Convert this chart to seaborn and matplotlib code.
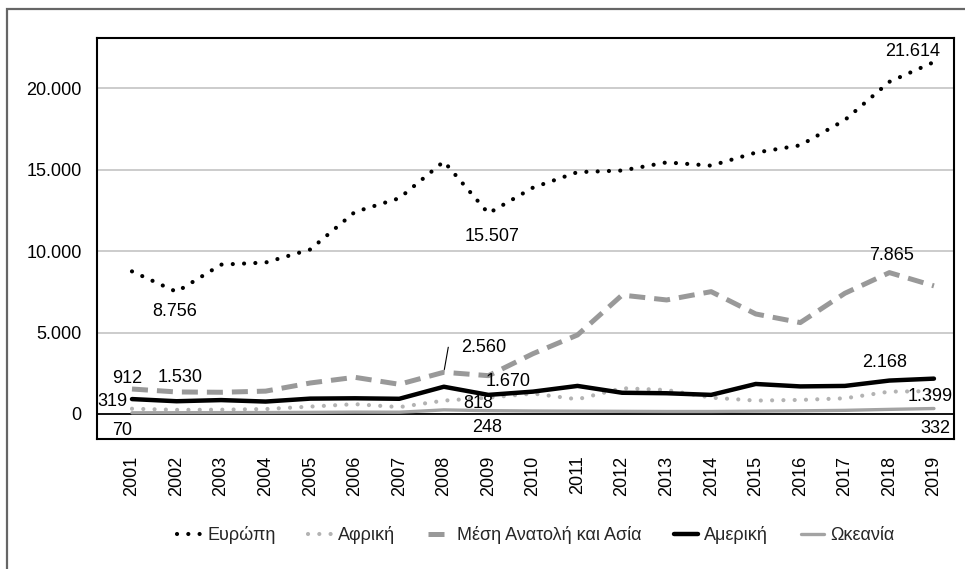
import matplotlib
matplotlib.use("Agg")

import matplotlib.pyplot as plt
import seaborn as sns
from matplotlib.patches import Rectangle

# Data
years = list(range(2001, 2020))
europe = [8756, 7500, 9170, 9300, 10100, 12400, 13250, 15507, 12320, 13900,
          14850, 14950, 15450, 15250, 16050, 16500, 18050, 20400, 21614]
africa = [319, 250, 260, 300, 450, 600, 420, 818, 1000, 1250,
          900, 1580, 1470, 1000, 820, 860, 960, 1370, 1399]
mideast_asia = [1530, 1350, 1330, 1400, 1900, 2250, 1820, 2560, 2350, 3700,
                4850, 7300, 7000, 7510, 6140, 5610, 7410, 8680, 7865]
americas = [912, 780, 850, 760, 940, 960, 930, 1670, 1170, 1370,
            1720, 1300, 1270, 1170, 1840, 1690, 1720, 2050, 2168]
oceania = [70, 75, 80, 85, 95, 110, 105, 248, 200, 180,
           170, 160, 150, 150, 170, 190, 220, 280, 332]

names = ["Ευρώπη", "Αφρική", "Μέση Ανατολή και Ασία", "Αμερική", "Ωκεανία"]

sns.set_theme(style="white")
plt.rcParams["font.family"] = ["Liberation Sans", "DejaVu Sans"]

fig = plt.figure(figsize=(9.65, 5.69), dpi=100)
ax = fig.add_axes([97 / 965, 1 - 439 / 569, 857 / 965, 401 / 569])

# outer frame of the picture
fig.patches.append(Rectangle((7 / 965, -0.1), 1.1, 1 - 9 / 569 + 0.1,
                             transform=fig.transFigure, fill=False,
                             edgecolor="#666666", linewidth=1.6))

# gridlines
for v in [5000, 10000, 15000, 20000]:
    ax.axhline(v, color="#c8c8c8", lw=1.3, zorder=0)
ax.axhline(0, color="black", lw=1.3, zorder=1)

series = [
    (europe, dict(color="black", lw=3.0, linestyle=(0, (0.01, 2.7)),
                  dash_capstyle="round")),
    (africa, dict(color="#b3b3b3", lw=3.0, linestyle=(0, (0.01, 2.7)),
                  dash_capstyle="round")),
    (mideast_asia, dict(color="#999999", lw=3.6, linestyle=(0, (3.2, 1.8)))),
    (americas, dict(color="black", lw=3.2)),
    (oceania, dict(color="#a3a3a3", lw=2.4)),
]
for (vals, kws), name in zip(series, names):
    sns.lineplot(x=years, y=vals, ax=ax, label=name, zorder=3, **kws)

ax.set_xlim(2000.215, 2019.45)
ax.set_ylim(-1540, 23090)
ax.set_xticks(years)
ax.set_xticklabels([str(y) for y in years], rotation=90)
ax.set_yticks([0, 5000, 10000, 15000, 20000])
ax.set_yticklabels(["0", "5.000", "10.000", "15.000", "20.000"])
ax.tick_params(axis="y", length=0, pad=11, labelsize=13, colors="black")
ax.tick_params(axis="x", length=0, pad=12, labelsize=13, colors="black")
ax.set_xlabel("")
ax.set_ylabel("")
for s in ax.spines.values():
    s.set_color("black")
    s.set_linewidth(1.5)


def fmt(v):
    return f"{v:,}".replace(",", ".")


# value labels: (series, year index, offset in pixels)
labels = [
    (europe, 18, (-21, 11)),
    (europe, 7, (48, -75)),
    (europe, 0, (43, -40)),
    (mideast_asia, 18, (-42, 30)),
    (mideast_asia, 0, (48, 12)),
    (americas, 0, (-5, 21)),
    (americas, 7, (64, 5)),
    (americas, 18, (-49, 16)),
    (africa, 0, (-20, 7)),
    (africa, 7, (34, -3)),
    (africa, 18, (-4, -5)),
    (oceania, 0, (-10, -18)),
    (oceania, 7, (43, -18)),
    (oceania, 18, (1, -20)),
]
for vals, i, off in labels:
    ax.annotate(fmt(vals[i]), xy=(years[i], vals[i]), xytext=off,
                textcoords="offset pixels", ha="center", va="center",
                fontsize=13, color="black", zorder=5)

# label with leader line
ax.annotate(fmt(mideast_asia[7]), xy=(years[7], mideast_asia[7]),
            xytext=(40, 25), textcoords="offset pixels",
            ha="center", va="center", fontsize=13, color="black", zorder=5,
            arrowprops=dict(arrowstyle="-", color="black", lw=0.8,
                            relpos=(0, 0.5), shrinkA=7, shrinkB=2,
                            connectionstyle="angle,angleA=180,angleB=80,rad=0"))

handles, texts = ax.get_legend_handles_labels()
ax.get_legend().remove()
fig.legend(handles, texts, loc="center", bbox_to_anchor=(536 / 965, 1 - 535 / 569),
           ncol=5, frameon=False, fontsize=13, handlelength=1.3,
           handletextpad=0.35, columnspacing=1.8)

fig.savefig("out.png", dpi=100, facecolor="white")
